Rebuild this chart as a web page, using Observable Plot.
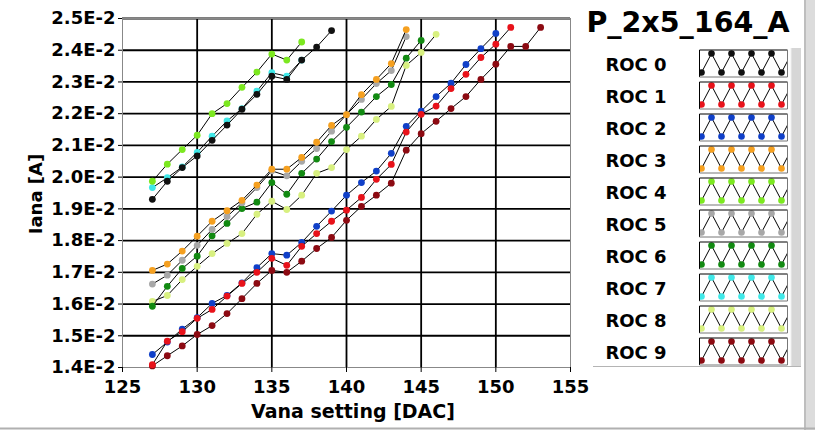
<!DOCTYPE html>
<html>
<head>
<meta charset="utf-8">
<script src="https://cdn.jsdelivr.net/npm/d3@7"></script>
<script src="https://cdn.jsdelivr.net/npm/@observablehq/plot@0.6"></script>
<style>
  html, body { margin: 0; padding: 0; background: #fff; }
  #chart { position: relative; width: 815px; height: 430px; overflow: hidden; }
  svg { font-family: "DejaVu Sans", Verdana, sans-serif; }
</style>
</head>
<body>
<div id="chart"></div>
<script>
// ---- data (Iana in units of 1E-2 A), x = Vana setting [DAC] ----
const title = "P_2x5_164_A";
const rocNames = ["ROC 0","ROC 1","ROC 2","ROC 3","ROC 4","ROC 5","ROC 6","ROC 7","ROC 8","ROC 9"];
const rocColors = ["#111111","#e8121a","#1040c8","#f5a020","#7ce820","#a8a8a8","#128a12","#40e8e8","#d8f080","#8c0a12"];
const startVana = [127,127,127,127,127,127,127,127,127,127];
const roc0 = [1.930,1.987,2.030,2.067,2.116,2.164,2.214,2.261,2.318,2.308,2.369,2.410,2.462];
const roc1 = [1.409,1.483,1.513,1.555,1.583,1.625,1.665,1.700,1.744,1.722,1.782,1.822,1.861,1.896,1.936,1.993,2.040,2.142,2.198,2.224,2.279,2.324,2.377,2.419,2.472];
const roc2 = [1.441,1.480,1.521,1.557,1.602,1.627,1.667,1.715,1.759,1.754,1.794,1.845,1.893,1.943,1.983,2.019,2.075,2.160,2.208,2.254,2.296,2.355,2.405,2.453];
const roc3 = [1.706,1.726,1.767,1.814,1.861,1.894,1.927,1.975,2.025,2.025,2.062,2.110,2.163,2.197,2.260,2.308,2.358,2.465];
const roc4 = [1.987,2.041,2.087,2.132,2.200,2.232,2.283,2.331,2.388,2.369,2.426];
const roc5 = [1.663,1.691,1.738,1.785,1.835,1.876,1.919,1.967,2.020,2.004,2.050,2.090,2.145,2.197,2.245,2.295,2.336,2.443];
const roc6 = [1.593,1.656,1.712,1.751,1.815,1.854,1.901,1.921,1.983,1.946,2.012,2.057,2.112,2.157,2.205,2.254,2.292,2.375,2.431];
const roc7 = [1.967,1.998,2.032,2.078,2.129,2.177,2.216,2.271,2.329,2.318,2.369];
const roc8 = [1.608,1.627,1.677,1.719,1.759,1.791,1.822,1.883,1.924,1.898,1.943,2.012,2.030,2.087,2.129,2.182,2.223,2.352,2.393,2.450];
const roc9 = [1.405,1.437,1.468,1.504,1.532,1.570,1.617,1.665,1.706,1.700,1.735,1.775,1.810,1.864,1.908,1.943,1.981,2.085,2.137,2.176,2.216,2.254,2.308,2.356,2.412,2.412,2.472];
const series = [roc0,roc1,roc2,roc3,roc4,roc5,roc6,roc7,roc8,roc9];
const xTicks = [125,130,135,140,145,150,155];
const yTicks = [1.4,1.5,1.6,1.7,1.8,1.9,2.0,2.1,2.2,2.3,2.4,2.5];
const xLabel = "Vana setting [DAC]";
const yLabel = "Iana [A]";

// ---- build table (draw order: ROC 9 first, ROC 0 on top) ----
const rows = [];
for (let r = series.length - 1; r >= 0; r--) {
  series[r].forEach((v, i) => rows.push({roc: r, vana: startVana[r] + i, iana: v}));
}

const plot = Plot.plot({
  width: 815, height: 430,
  marginLeft: 122, marginRight: 245, marginTop: 18, marginBottom: 63,
  style: {fontFamily: "DejaVu Sans, Verdana, sans-serif", fontWeight: "bold", fontSize: "18px", color: "#000", background: "transparent"},
  x: {domain: [125, 155]},
  y: {domain: [1.4, 2.5]},
  marks: [
    Plot.gridX(xTicks.filter(d => d > 125 && d < 155), {stroke: "#000", strokeOpacity: 1, strokeWidth: 1.8}),
    Plot.gridY(yTicks.filter(d => d > 1.4), {stroke: "#000", strokeOpacity: 1, strokeWidth: 1.8}),
    Plot.frame({stroke: "#888", strokeWidth: 1}),
    Plot.axisX(xTicks, {tickSize: 5, tickPadding: 8, label: null, fontSize: 18, fontWeight: "bold", stroke: "#000"}),
    Plot.axisY(yTicks, {tickSize: 4, tickPadding: 3, label: null, fontSize: 18, fontWeight: "bold",
      tickFormat: d => d.toFixed(1) + "E-2", stroke: "#000"}),
    ...d3.range(series.length - 1, -1, -1).flatMap(r => [
      Plot.line(rows.filter(d => d.roc === r), {x: "vana", y: "iana", stroke: "#000", strokeWidth: 1}),
      Plot.dot(rows.filter(d => d.roc === r), {x: "vana", y: "iana", r: 3.4, fill: rocColors[r], stroke: "none"})
    ])
  ]
});

document.getElementById("chart").appendChild(plot);
const svg = d3.select(plot);

// axis titles
svg.append("text").attr("x", 353).attr("y", 418).attr("text-anchor", "middle")
  .attr("font-size", 19).attr("font-weight", "bold").attr("fill", "#000").text(xLabel);
svg.append("text").attr("transform", "translate(42,194) rotate(-90)").attr("text-anchor", "middle")
  .attr("font-size", 18).attr("font-weight", "bold").attr("fill", "#000").text(yLabel);

// window chrome: right band, bottom line
svg.append("rect").attr("x", 804).attr("y", 0).attr("width", 11).attr("height", 430).attr("fill", "#dcdcdc");
svg.append("line").attr("x1", 805).attr("x2", 805).attr("y1", 0).attr("y2", 430).attr("stroke", "#a0a0a0");
svg.append("line").attr("x1", 0).attr("x2", 815).attr("y1", 428.5).attr("y2", 428.5).attr("stroke", "#b0b0b0").attr("stroke-width", 2);

// title
svg.append("text").attr("x", 688).attr("y", 32).attr("text-anchor", "middle")
  .attr("font-size", 28.5).attr("font-weight", "bold").attr("fill", "#000").text(title);

// legend panel
svg.append("rect").attr("x", 791).attr("y", 48).attr("width", 10).attr("height", 319).attr("fill", "#d6d6d6");
svg.append("line").attr("x1", 791).attr("x2", 791).attr("y1", 48).attr("y2", 367).attr("stroke", "#eeeeee");
svg.append("line").attr("x1", 593).attr("x2", 801).attr("y1", 366.5).attr("y2", 366.5).attr("stroke", "#b4b4b4");

const lg = svg.append("g");
rocNames.forEach((name, i) => {
  const top = 50 + i * 32;
  lg.append("text").attr("x", 636).attr("y", top + 20.7).attr("text-anchor", "middle")
    .attr("font-size", 18).attr("font-weight", "bold").attr("fill", "#000").text(name);
  const bx = 699.5, bw = 88, bh = 27;
  const clipId = "clip" + i;
  lg.append("clipPath").attr("id", clipId).append("rect").attr("x", bx).attr("y", top).attr("width", bw).attr("height", bh);
  lg.append("rect").attr("x", bx).attr("y", top).attr("width", bw).attr("height", bh).attr("fill", "#fff");
  const g = lg.append("g").attr("clip-path", `url(#${clipId})`);
  const pts = [];
  for (let k = 0; k < 9; k++) pts.push([bx + 2 + k * 10, k % 2 === 0 ? top + 22.5 : top + 3.5]);
  pts.push([bx + 92, top + 3.5]);
  g.append("path").attr("d", d3.line()(pts)).attr("fill", "none").attr("stroke", "#000").attr("stroke-width", 1);
  pts.slice(0, 9).forEach(p => g.append("circle").attr("cx", p[0]).attr("cy", p[1]).attr("r", 3.3).attr("fill", rocColors[i]));
  lg.append("path").attr("d", `M${bx},${top + bh}V${top}H${bx + bw}`).attr("stroke", "#000").attr("fill", "none");
  lg.append("path").attr("d", `M${bx},${top + bh}H${bx + bw}V${top}`).attr("stroke", "#777").attr("fill", "none");
});
</script>
</body>
</html>
